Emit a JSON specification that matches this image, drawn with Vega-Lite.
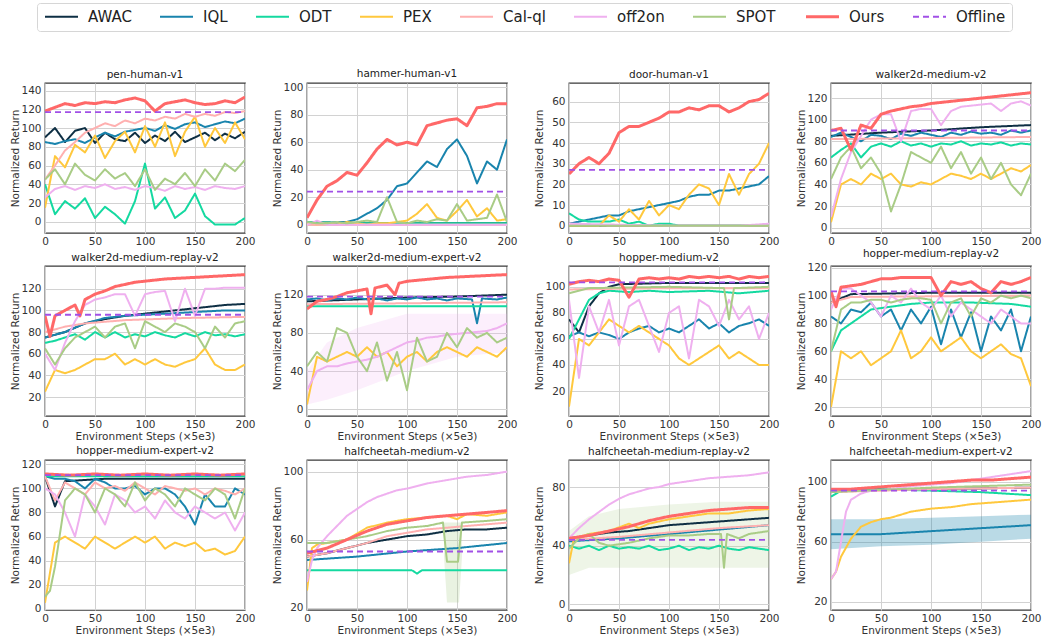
{
"$schema":"https://vega.github.io/schema/vega-lite/v6.json",
"padding":{"left":9,"top":2,"right":0,"bottom":0},
"background":"white",
"config":{
"font":"DejaVu Sans",
"view":{"stroke":"#3a3a3a","strokeWidth":1.3},
"title":{"font":"DejaVu Sans","fontSize":10.5,"fontWeight":"normal","color":"#222","offset":3},
"axis":{"labelFont":"DejaVu Sans","labelFontSize":10.5,"labelColor":"#333","titleFont":"DejaVu Sans","titleFontSize":10.5,"titleFontWeight":"normal","titleColor":"#333","ticks":false,"domain":false,"gridColor":"#d2d2d2","gridWidth":1,"labelPadding":4},
"axisY":{"titlePadding":4,"minExtent":21,"maxExtent":21},
"axisX":{"titlePadding":2,"labelPadding":3,"labelFlush":false},
"legend":{"symbolType":"M-1,0H5","symbolSize":121,"labelFont":"DejaVu Sans","labelFontSize":15,"labelColor":"#222","labelOffset":30,"columnPadding":24,"padding":6,"strokeColor":"#d6d6d6","fillColor":"white","cornerRadius":3}
},
"datasets":{
"p1":[
{"m":"AWAC","x":0,"y":90},{"m":"AWAC","x":10,"y":100},{"m":"AWAC","x":20,"y":85},{"m":"AWAC","x":30,"y":97},{"m":"AWAC","x":40,"y":100},{"m":"AWAC","x":50,"y":84},{"m":"AWAC","x":60,"y":95},{"m":"AWAC","x":70,"y":88},{"m":"AWAC","x":80,"y":86},{"m":"AWAC","x":90,"y":95},{"m":"AWAC","x":100,"y":84},{"m":"AWAC","x":110,"y":92},{"m":"AWAC","x":120,"y":86},{"m":"AWAC","x":130,"y":96},{"m":"AWAC","x":140,"y":85},{"m":"AWAC","x":150,"y":90},{"m":"AWAC","x":160,"y":95},{"m":"AWAC","x":170,"y":87},{"m":"AWAC","x":180,"y":94},{"m":"AWAC","x":190,"y":89},{"m":"AWAC","x":200,"y":96},
{"m":"IQL","x":0,"y":85},{"m":"IQL","x":10,"y":83},{"m":"IQL","x":20,"y":86},{"m":"IQL","x":30,"y":88},{"m":"IQL","x":40,"y":84},{"m":"IQL","x":50,"y":90},{"m":"IQL","x":60,"y":95},{"m":"IQL","x":70,"y":91},{"m":"IQL","x":80,"y":96},{"m":"IQL","x":90,"y":98},{"m":"IQL","x":100,"y":100},{"m":"IQL","x":110,"y":97},{"m":"IQL","x":120,"y":103},{"m":"IQL","x":130,"y":99},{"m":"IQL","x":140,"y":104},{"m":"IQL","x":150,"y":106},{"m":"IQL","x":160,"y":101},{"m":"IQL","x":170,"y":104},{"m":"IQL","x":180,"y":107},{"m":"IQL","x":190,"y":105},{"m":"IQL","x":200,"y":110},
{"m":"ODT","x":0,"y":40},{"m":"ODT","x":10,"y":8},{"m":"ODT","x":20,"y":22},{"m":"ODT","x":30,"y":14},{"m":"ODT","x":40,"y":25},{"m":"ODT","x":50,"y":4},{"m":"ODT","x":60,"y":16},{"m":"ODT","x":70,"y":8},{"m":"ODT","x":80,"y":-2},{"m":"ODT","x":90,"y":22},{"m":"ODT","x":100,"y":62},{"m":"ODT","x":110,"y":14},{"m":"ODT","x":120,"y":26},{"m":"ODT","x":130,"y":4},{"m":"ODT","x":140,"y":12},{"m":"ODT","x":150,"y":30},{"m":"ODT","x":160,"y":6},{"m":"ODT","x":170,"y":-3},{"m":"ODT","x":180,"y":-3},{"m":"ODT","x":190,"y":-3},{"m":"ODT","x":200,"y":4},
{"m":"PEX","x":0,"y":15},{"m":"PEX","x":10,"y":70},{"m":"PEX","x":20,"y":58},{"m":"PEX","x":30,"y":82},{"m":"PEX","x":40,"y":74},{"m":"PEX","x":50,"y":92},{"m":"PEX","x":60,"y":68},{"m":"PEX","x":70,"y":86},{"m":"PEX","x":80,"y":96},{"m":"PEX","x":90,"y":74},{"m":"PEX","x":100,"y":102},{"m":"PEX","x":110,"y":80},{"m":"PEX","x":120,"y":106},{"m":"PEX","x":130,"y":70},{"m":"PEX","x":140,"y":96},{"m":"PEX","x":150,"y":112},{"m":"PEX","x":160,"y":80},{"m":"PEX","x":170,"y":100},{"m":"PEX","x":180,"y":84},{"m":"PEX","x":190,"y":106},{"m":"PEX","x":200,"y":88},
{"m":"Cal-ql","x":0,"y":45},{"m":"Cal-ql","x":10,"y":60},{"m":"Cal-ql","x":20,"y":76},{"m":"Cal-ql","x":30,"y":85},{"m":"Cal-ql","x":40,"y":95},{"m":"Cal-ql","x":50,"y":100},{"m":"Cal-ql","x":60,"y":105},{"m":"Cal-ql","x":70,"y":102},{"m":"Cal-ql","x":80,"y":108},{"m":"Cal-ql","x":90,"y":105},{"m":"Cal-ql","x":100,"y":110},{"m":"Cal-ql","x":110,"y":108},{"m":"Cal-ql","x":120,"y":112},{"m":"Cal-ql","x":130,"y":110},{"m":"Cal-ql","x":140,"y":115},{"m":"Cal-ql","x":150,"y":112},{"m":"Cal-ql","x":160,"y":115},{"m":"Cal-ql","x":170,"y":113},{"m":"Cal-ql","x":180,"y":117},{"m":"Cal-ql","x":190,"y":116},{"m":"Cal-ql","x":200,"y":118},
{"m":"off2on","x":0,"y":26},{"m":"off2on","x":10,"y":35},{"m":"off2on","x":20,"y":38},{"m":"off2on","x":30,"y":34},{"m":"off2on","x":40,"y":38},{"m":"off2on","x":50,"y":36},{"m":"off2on","x":60,"y":40},{"m":"off2on","x":70,"y":35},{"m":"off2on","x":80,"y":37},{"m":"off2on","x":90,"y":34},{"m":"off2on","x":100,"y":38},{"m":"off2on","x":110,"y":36},{"m":"off2on","x":120,"y":33},{"m":"off2on","x":130,"y":38},{"m":"off2on","x":140,"y":35},{"m":"off2on","x":150,"y":37},{"m":"off2on","x":160,"y":34},{"m":"off2on","x":170,"y":38},{"m":"off2on","x":180,"y":36},{"m":"off2on","x":190,"y":35},{"m":"off2on","x":200,"y":38},
{"m":"SPOT","x":0,"y":45},{"m":"SPOT","x":10,"y":56},{"m":"SPOT","x":20,"y":40},{"m":"SPOT","x":30,"y":62},{"m":"SPOT","x":40,"y":50},{"m":"SPOT","x":50,"y":44},{"m":"SPOT","x":60,"y":56},{"m":"SPOT","x":70,"y":46},{"m":"SPOT","x":80,"y":52},{"m":"SPOT","x":90,"y":38},{"m":"SPOT","x":100,"y":56},{"m":"SPOT","x":110,"y":34},{"m":"SPOT","x":120,"y":46},{"m":"SPOT","x":130,"y":40},{"m":"SPOT","x":140,"y":52},{"m":"SPOT","x":150,"y":38},{"m":"SPOT","x":160,"y":56},{"m":"SPOT","x":170,"y":44},{"m":"SPOT","x":180,"y":62},{"m":"SPOT","x":190,"y":54},{"m":"SPOT","x":200,"y":66},
{"m":"Ours","x":0,"y":118},{"m":"Ours","x":10,"y":122},{"m":"Ours","x":20,"y":126},{"m":"Ours","x":30,"y":124},{"m":"Ours","x":40,"y":127},{"m":"Ours","x":50,"y":126},{"m":"Ours","x":60,"y":128},{"m":"Ours","x":70,"y":127},{"m":"Ours","x":80,"y":130},{"m":"Ours","x":90,"y":132},{"m":"Ours","x":100,"y":129},{"m":"Ours","x":110,"y":118},{"m":"Ours","x":120,"y":126},{"m":"Ours","x":130,"y":128},{"m":"Ours","x":140,"y":130},{"m":"Ours","x":150,"y":127},{"m":"Ours","x":160,"y":125},{"m":"Ours","x":170,"y":126},{"m":"Ours","x":180,"y":129},{"m":"Ours","x":190,"y":127},{"m":"Ours","x":200,"y":133},
{"m":"Offline","x":0,"y":117},{"m":"Offline","x":200,"y":117}
],
"p2":[
{"m":"AWAC","x":0,"y":2},{"m":"AWAC","x":50,"y":1},{"m":"AWAC","x":100,"y":1},{"m":"AWAC","x":150,"y":1},{"m":"AWAC","x":200,"y":1},
{"m":"IQL","x":0,"y":2},{"m":"IQL","x":10,"y":2},{"m":"IQL","x":20,"y":1},{"m":"IQL","x":30,"y":2},{"m":"IQL","x":40,"y":2},{"m":"IQL","x":50,"y":4},{"m":"IQL","x":60,"y":8},{"m":"IQL","x":70,"y":12},{"m":"IQL","x":80,"y":18},{"m":"IQL","x":90,"y":28},{"m":"IQL","x":100,"y":30},{"m":"IQL","x":110,"y":38},{"m":"IQL","x":120,"y":46},{"m":"IQL","x":130,"y":42},{"m":"IQL","x":140,"y":55},{"m":"IQL","x":150,"y":62},{"m":"IQL","x":160,"y":50},{"m":"IQL","x":170,"y":30},{"m":"IQL","x":180,"y":46},{"m":"IQL","x":190,"y":40},{"m":"IQL","x":200,"y":62},
{"m":"ODT","x":0,"y":2},{"m":"ODT","x":50,"y":1},{"m":"ODT","x":100,"y":1},{"m":"ODT","x":150,"y":1},{"m":"ODT","x":200,"y":1},
{"m":"PEX","x":0,"y":1},{"m":"PEX","x":10,"y":0},{"m":"PEX","x":20,"y":1},{"m":"PEX","x":30,"y":0},{"m":"PEX","x":40,"y":2},{"m":"PEX","x":50,"y":1},{"m":"PEX","x":60,"y":0},{"m":"PEX","x":70,"y":1},{"m":"PEX","x":80,"y":1},{"m":"PEX","x":90,"y":2},{"m":"PEX","x":100,"y":3},{"m":"PEX","x":110,"y":8},{"m":"PEX","x":120,"y":15},{"m":"PEX","x":130,"y":5},{"m":"PEX","x":140,"y":3},{"m":"PEX","x":150,"y":10},{"m":"PEX","x":160,"y":18},{"m":"PEX","x":170,"y":6},{"m":"PEX","x":180,"y":12},{"m":"PEX","x":190,"y":3},{"m":"PEX","x":200,"y":4},
{"m":"Cal-ql","x":0,"y":0},{"m":"Cal-ql","x":100,"y":0},{"m":"Cal-ql","x":200,"y":0},
{"m":"off2on","x":0,"y":0},{"m":"off2on","x":10,"y":3},{"m":"off2on","x":20,"y":0},{"m":"off2on","x":100,"y":0},{"m":"off2on","x":200,"y":0},
{"m":"SPOT","x":0,"y":2},{"m":"SPOT","x":10,"y":1},{"m":"SPOT","x":20,"y":1},{"m":"SPOT","x":30,"y":2},{"m":"SPOT","x":40,"y":1},{"m":"SPOT","x":50,"y":2},{"m":"SPOT","x":60,"y":3},{"m":"SPOT","x":70,"y":2},{"m":"SPOT","x":80,"y":20},{"m":"SPOT","x":90,"y":2},{"m":"SPOT","x":100,"y":1},{"m":"SPOT","x":110,"y":3},{"m":"SPOT","x":120,"y":2},{"m":"SPOT","x":130,"y":4},{"m":"SPOT","x":140,"y":3},{"m":"SPOT","x":150,"y":15},{"m":"SPOT","x":160,"y":3},{"m":"SPOT","x":170,"y":4},{"m":"SPOT","x":180,"y":5},{"m":"SPOT","x":190,"y":22},{"m":"SPOT","x":200,"y":2},
{"m":"Ours","x":0,"y":5},{"m":"Ours","x":10,"y":18},{"m":"Ours","x":20,"y":28},{"m":"Ours","x":30,"y":32},{"m":"Ours","x":40,"y":38},{"m":"Ours","x":50,"y":36},{"m":"Ours","x":60,"y":45},{"m":"Ours","x":70,"y":55},{"m":"Ours","x":80,"y":62},{"m":"Ours","x":90,"y":58},{"m":"Ours","x":100,"y":60},{"m":"Ours","x":110,"y":58},{"m":"Ours","x":120,"y":72},{"m":"Ours","x":130,"y":74},{"m":"Ours","x":140,"y":76},{"m":"Ours","x":150,"y":77},{"m":"Ours","x":160,"y":72},{"m":"Ours","x":170,"y":85},{"m":"Ours","x":180,"y":86},{"m":"Ours","x":190,"y":88},{"m":"Ours","x":200,"y":88},
{"m":"Offline","x":0,"y":24},{"m":"Offline","x":200,"y":24}
],
"p3":[
{"m":"AWAC","x":0,"y":0},{"m":"AWAC","x":200,"y":0},
{"m":"IQL","x":0,"y":1},{"m":"IQL","x":10,"y":2},{"m":"IQL","x":20,"y":3},{"m":"IQL","x":30,"y":4},{"m":"IQL","x":40,"y":5},{"m":"IQL","x":50,"y":5},{"m":"IQL","x":60,"y":7},{"m":"IQL","x":70,"y":8},{"m":"IQL","x":80,"y":9},{"m":"IQL","x":90,"y":10},{"m":"IQL","x":100,"y":11},{"m":"IQL","x":110,"y":12},{"m":"IQL","x":120,"y":14},{"m":"IQL","x":130,"y":15},{"m":"IQL","x":140,"y":15},{"m":"IQL","x":150,"y":17},{"m":"IQL","x":160,"y":17},{"m":"IQL","x":170,"y":18},{"m":"IQL","x":180,"y":19},{"m":"IQL","x":190,"y":20},{"m":"IQL","x":200,"y":24},
{"m":"ODT","x":0,"y":6},{"m":"ODT","x":10,"y":3},{"m":"ODT","x":20,"y":2},{"m":"ODT","x":30,"y":2},{"m":"ODT","x":40,"y":2},{"m":"ODT","x":50,"y":3},{"m":"ODT","x":60,"y":1},{"m":"ODT","x":70,"y":2},{"m":"ODT","x":80,"y":0},{"m":"ODT","x":90,"y":1},{"m":"ODT","x":100,"y":1},{"m":"ODT","x":110,"y":0},{"m":"ODT","x":200,"y":0},
{"m":"PEX","x":0,"y":0},{"m":"PEX","x":10,"y":0},{"m":"PEX","x":20,"y":0},{"m":"PEX","x":30,"y":0},{"m":"PEX","x":40,"y":5},{"m":"PEX","x":50,"y":2},{"m":"PEX","x":60,"y":8},{"m":"PEX","x":70,"y":3},{"m":"PEX","x":80,"y":12},{"m":"PEX","x":90,"y":5},{"m":"PEX","x":100,"y":10},{"m":"PEX","x":110,"y":8},{"m":"PEX","x":120,"y":15},{"m":"PEX","x":130,"y":20},{"m":"PEX","x":140,"y":18},{"m":"PEX","x":150,"y":10},{"m":"PEX","x":160,"y":25},{"m":"PEX","x":170,"y":15},{"m":"PEX","x":180,"y":25},{"m":"PEX","x":190,"y":30},{"m":"PEX","x":200,"y":40},
{"m":"Cal-ql","x":0,"y":1},{"m":"Cal-ql","x":40,"y":0},{"m":"Cal-ql","x":200,"y":0},
{"m":"off2on","x":0,"y":1},{"m":"off2on","x":100,"y":0},{"m":"off2on","x":170,"y":0},{"m":"off2on","x":200,"y":1},
{"m":"SPOT","x":0,"y":0},{"m":"SPOT","x":200,"y":0},
{"m":"Ours","x":0,"y":25},{"m":"Ours","x":10,"y":30},{"m":"Ours","x":20,"y":33},{"m":"Ours","x":30,"y":30},{"m":"Ours","x":40,"y":35},{"m":"Ours","x":50,"y":45},{"m":"Ours","x":60,"y":48},{"m":"Ours","x":70,"y":48},{"m":"Ours","x":80,"y":50},{"m":"Ours","x":90,"y":52},{"m":"Ours","x":100,"y":55},{"m":"Ours","x":110,"y":55},{"m":"Ours","x":120,"y":57},{"m":"Ours","x":130,"y":56},{"m":"Ours","x":140,"y":58},{"m":"Ours","x":150,"y":58},{"m":"Ours","x":160,"y":55},{"m":"Ours","x":170,"y":57},{"m":"Ours","x":180,"y":60},{"m":"Ours","x":190,"y":61},{"m":"Ours","x":200,"y":64},
{"m":"Offline","x":0,"y":27},{"m":"Offline","x":200,"y":27}
],
"p4":[
{"m":"AWAC","x":0,"y":85},{"m":"AWAC","x":50,"y":88},{"m":"AWAC","x":100,"y":90},{"m":"AWAC","x":150,"y":93},{"m":"AWAC","x":200,"y":95},
{"m":"IQL","x":0,"y":84},{"m":"IQL","x":10,"y":88},{"m":"IQL","x":20,"y":84},{"m":"IQL","x":30,"y":80},{"m":"IQL","x":40,"y":86},{"m":"IQL","x":50,"y":85},{"m":"IQL","x":60,"y":82},{"m":"IQL","x":70,"y":87},{"m":"IQL","x":80,"y":85},{"m":"IQL","x":90,"y":88},{"m":"IQL","x":100,"y":86},{"m":"IQL","x":110,"y":84},{"m":"IQL","x":120,"y":88},{"m":"IQL","x":130,"y":86},{"m":"IQL","x":140,"y":89},{"m":"IQL","x":150,"y":87},{"m":"IQL","x":160,"y":88},{"m":"IQL","x":170,"y":86},{"m":"IQL","x":180,"y":90},{"m":"IQL","x":190,"y":88},{"m":"IQL","x":200,"y":90},
{"m":"ODT","x":0,"y":65},{"m":"ODT","x":10,"y":72},{"m":"ODT","x":20,"y":78},{"m":"ODT","x":30,"y":65},{"m":"ODT","x":40,"y":75},{"m":"ODT","x":50,"y":78},{"m":"ODT","x":60,"y":75},{"m":"ODT","x":70,"y":80},{"m":"ODT","x":80,"y":76},{"m":"ODT","x":90,"y":78},{"m":"ODT","x":100,"y":75},{"m":"ODT","x":110,"y":78},{"m":"ODT","x":120,"y":77},{"m":"ODT","x":130,"y":80},{"m":"ODT","x":140,"y":76},{"m":"ODT","x":150,"y":78},{"m":"ODT","x":160,"y":77},{"m":"ODT","x":170,"y":79},{"m":"ODT","x":180,"y":76},{"m":"ODT","x":190,"y":78},{"m":"ODT","x":200,"y":77},
{"m":"PEX","x":0,"y":5},{"m":"PEX","x":10,"y":40},{"m":"PEX","x":20,"y":45},{"m":"PEX","x":30,"y":40},{"m":"PEX","x":40,"y":50},{"m":"PEX","x":50,"y":45},{"m":"PEX","x":60,"y":50},{"m":"PEX","x":70,"y":40},{"m":"PEX","x":80,"y":38},{"m":"PEX","x":90,"y":42},{"m":"PEX","x":100,"y":40},{"m":"PEX","x":110,"y":45},{"m":"PEX","x":120,"y":50},{"m":"PEX","x":130,"y":48},{"m":"PEX","x":140,"y":45},{"m":"PEX","x":150,"y":50},{"m":"PEX","x":160,"y":45},{"m":"PEX","x":170,"y":50},{"m":"PEX","x":180,"y":55},{"m":"PEX","x":190,"y":52},{"m":"PEX","x":200,"y":58},
{"m":"Cal-ql","x":0,"y":82},{"m":"Cal-ql","x":100,"y":83},{"m":"Cal-ql","x":200,"y":84},
{"m":"off2on","x":0,"y":10},{"m":"off2on","x":10,"y":45},{"m":"off2on","x":20,"y":70},{"m":"off2on","x":30,"y":85},{"m":"off2on","x":40,"y":100},{"m":"off2on","x":50,"y":105},{"m":"off2on","x":60,"y":105},{"m":"off2on","x":70,"y":80},{"m":"off2on","x":80,"y":108},{"m":"off2on","x":90,"y":110},{"m":"off2on","x":100,"y":110},{"m":"off2on","x":110,"y":95},{"m":"off2on","x":120,"y":108},{"m":"off2on","x":130,"y":112},{"m":"off2on","x":140,"y":113},{"m":"off2on","x":150,"y":114},{"m":"off2on","x":160,"y":115},{"m":"off2on","x":170,"y":108},{"m":"off2on","x":180,"y":115},{"m":"off2on","x":190,"y":117},{"m":"off2on","x":200,"y":113},
{"m":"SPOT","x":0,"y":45},{"m":"SPOT","x":10,"y":65},{"m":"SPOT","x":20,"y":75},{"m":"SPOT","x":30,"y":55},{"m":"SPOT","x":40,"y":65},{"m":"SPOT","x":50,"y":50},{"m":"SPOT","x":60,"y":15},{"m":"SPOT","x":70,"y":40},{"m":"SPOT","x":80,"y":70},{"m":"SPOT","x":90,"y":65},{"m":"SPOT","x":100,"y":60},{"m":"SPOT","x":110,"y":75},{"m":"SPOT","x":120,"y":55},{"m":"SPOT","x":130,"y":70},{"m":"SPOT","x":140,"y":50},{"m":"SPOT","x":150,"y":65},{"m":"SPOT","x":160,"y":45},{"m":"SPOT","x":170,"y":60},{"m":"SPOT","x":180,"y":40},{"m":"SPOT","x":190,"y":30},{"m":"SPOT","x":200,"y":50},
{"m":"Ours","x":0,"y":90},{"m":"Ours","x":10,"y":92},{"m":"Ours","x":20,"y":72},{"m":"Ours","x":30,"y":95},{"m":"Ours","x":40,"y":92},{"m":"Ours","x":50,"y":105},{"m":"Ours","x":60,"y":108},{"m":"Ours","x":70,"y":110},{"m":"Ours","x":80,"y":112},{"m":"Ours","x":90,"y":113},{"m":"Ours","x":100,"y":115},{"m":"Ours","x":120,"y":117},{"m":"Ours","x":140,"y":119},{"m":"Ours","x":160,"y":121},{"m":"Ours","x":180,"y":123},{"m":"Ours","x":200,"y":125},
{"m":"Offline","x":0,"y":90},{"m":"Offline","x":200,"y":90}
],
"p5":[
{"m":"AWAC","x":0,"y":75},{"m":"AWAC","x":20,"y":80},{"m":"AWAC","x":40,"y":88},{"m":"AWAC","x":60,"y":92},{"m":"AWAC","x":80,"y":95},{"m":"AWAC","x":100,"y":97},{"m":"AWAC","x":120,"y":99},{"m":"AWAC","x":140,"y":101},{"m":"AWAC","x":160,"y":103},{"m":"AWAC","x":180,"y":105},{"m":"AWAC","x":200,"y":106},
{"m":"IQL","x":0,"y":75},{"m":"IQL","x":20,"y":80},{"m":"IQL","x":40,"y":88},{"m":"IQL","x":60,"y":93},{"m":"IQL","x":80,"y":95},{"m":"IQL","x":100,"y":96},{"m":"IQL","x":120,"y":97},{"m":"IQL","x":140,"y":98},{"m":"IQL","x":160,"y":99},{"m":"IQL","x":180,"y":100},{"m":"IQL","x":200,"y":100},
{"m":"ODT","x":0,"y":70},{"m":"ODT","x":10,"y":72},{"m":"ODT","x":20,"y":75},{"m":"ODT","x":30,"y":78},{"m":"ODT","x":40,"y":73},{"m":"ODT","x":50,"y":80},{"m":"ODT","x":60,"y":75},{"m":"ODT","x":70,"y":80},{"m":"ODT","x":80,"y":75},{"m":"ODT","x":90,"y":78},{"m":"ODT","x":100,"y":76},{"m":"ODT","x":110,"y":80},{"m":"ODT","x":120,"y":77},{"m":"ODT","x":130,"y":75},{"m":"ODT","x":140,"y":79},{"m":"ODT","x":150,"y":76},{"m":"ODT","x":160,"y":80},{"m":"ODT","x":170,"y":77},{"m":"ODT","x":180,"y":78},{"m":"ODT","x":190,"y":76},{"m":"ODT","x":200,"y":78},
{"m":"PEX","x":0,"y":25},{"m":"PEX","x":10,"y":45},{"m":"PEX","x":20,"y":42},{"m":"PEX","x":30,"y":45},{"m":"PEX","x":40,"y":50},{"m":"PEX","x":50,"y":55},{"m":"PEX","x":60,"y":55},{"m":"PEX","x":70,"y":60},{"m":"PEX","x":80,"y":50},{"m":"PEX","x":90,"y":55},{"m":"PEX","x":100,"y":50},{"m":"PEX","x":110,"y":55},{"m":"PEX","x":120,"y":50},{"m":"PEX","x":130,"y":48},{"m":"PEX","x":140,"y":52},{"m":"PEX","x":150,"y":55},{"m":"PEX","x":160,"y":65},{"m":"PEX","x":170,"y":50},{"m":"PEX","x":180,"y":45},{"m":"PEX","x":190,"y":45},{"m":"PEX","x":200,"y":50},
{"m":"Cal-ql","x":0,"y":80},{"m":"Cal-ql","x":20,"y":85},{"m":"Cal-ql","x":40,"y":88},{"m":"Cal-ql","x":80,"y":91},{"m":"Cal-ql","x":140,"y":93},{"m":"Cal-ql","x":200,"y":94},
{"m":"off2on","x":0,"y":60},{"m":"off2on","x":10,"y":45},{"m":"off2on","x":20,"y":70},{"m":"off2on","x":30,"y":90},{"m":"off2on","x":40,"y":105},{"m":"off2on","x":50,"y":110},{"m":"off2on","x":60,"y":112},{"m":"off2on","x":70,"y":115},{"m":"off2on","x":80,"y":115},{"m":"off2on","x":90,"y":95},{"m":"off2on","x":100,"y":115},{"m":"off2on","x":110,"y":117},{"m":"off2on","x":120,"y":118},{"m":"off2on","x":130,"y":90},{"m":"off2on","x":140,"y":120},{"m":"off2on","x":150,"y":95},{"m":"off2on","x":160,"y":120},{"m":"off2on","x":170,"y":120},{"m":"off2on","x":180,"y":121},{"m":"off2on","x":190,"y":121},{"m":"off2on","x":200,"y":121},
{"m":"SPOT","x":0,"y":65},{"m":"SPOT","x":10,"y":50},{"m":"SPOT","x":20,"y":65},{"m":"SPOT","x":30,"y":75},{"m":"SPOT","x":40,"y":80},{"m":"SPOT","x":50,"y":85},{"m":"SPOT","x":60,"y":75},{"m":"SPOT","x":70,"y":85},{"m":"SPOT","x":80,"y":88},{"m":"SPOT","x":90,"y":65},{"m":"SPOT","x":100,"y":90},{"m":"SPOT","x":110,"y":85},{"m":"SPOT","x":120,"y":80},{"m":"SPOT","x":130,"y":88},{"m":"SPOT","x":140,"y":85},{"m":"SPOT","x":150,"y":80},{"m":"SPOT","x":160,"y":65},{"m":"SPOT","x":170,"y":85},{"m":"SPOT","x":180,"y":75},{"m":"SPOT","x":190,"y":88},{"m":"SPOT","x":200,"y":90},
{"m":"Ours","x":0,"y":95},{"m":"Ours","x":5,"y":76},{"m":"Ours","x":10,"y":95},{"m":"Ours","x":20,"y":100},{"m":"Ours","x":30,"y":105},{"m":"Ours","x":35,"y":95},{"m":"Ours","x":40,"y":110},{"m":"Ours","x":50,"y":115},{"m":"Ours","x":60,"y":118},{"m":"Ours","x":70,"y":122},{"m":"Ours","x":80,"y":124},{"m":"Ours","x":90,"y":126},{"m":"Ours","x":100,"y":127},{"m":"Ours","x":120,"y":129},{"m":"Ours","x":140,"y":130},{"m":"Ours","x":160,"y":131},{"m":"Ours","x":180,"y":132},{"m":"Ours","x":200,"y":133},
{"m":"Offline","x":0,"y":96},{"m":"Offline","x":200,"y":96}
],
"p6":[
{"m":"AWAC","x":0,"y":113},{"m":"AWAC","x":50,"y":115},{"m":"AWAC","x":100,"y":117},{"m":"AWAC","x":150,"y":118},{"m":"AWAC","x":200,"y":120},
{"m":"IQL","x":0,"y":115},{"m":"IQL","x":10,"y":116},{"m":"IQL","x":20,"y":114},{"m":"IQL","x":30,"y":116},{"m":"IQL","x":40,"y":115},{"m":"IQL","x":50,"y":117},{"m":"IQL","x":60,"y":115},{"m":"IQL","x":70,"y":116},{"m":"IQL","x":80,"y":114},{"m":"IQL","x":90,"y":116},{"m":"IQL","x":100,"y":115},{"m":"IQL","x":110,"y":117},{"m":"IQL","x":120,"y":115},{"m":"IQL","x":130,"y":116},{"m":"IQL","x":140,"y":114},{"m":"IQL","x":150,"y":116},{"m":"IQL","x":165,"y":115},{"m":"IQL","x":170,"y":90},{"m":"IQL","x":175,"y":116},{"m":"IQL","x":190,"y":115},{"m":"IQL","x":200,"y":117},
{"m":"ODT","x":0,"y":108},{"m":"ODT","x":100,"y":108},{"m":"ODT","x":200,"y":108},
{"m":"PEX","x":0,"y":5},{"m":"PEX","x":10,"y":55},{"m":"PEX","x":20,"y":50},{"m":"PEX","x":30,"y":55},{"m":"PEX","x":40,"y":60},{"m":"PEX","x":50,"y":55},{"m":"PEX","x":60,"y":65},{"m":"PEX","x":70,"y":55},{"m":"PEX","x":80,"y":60},{"m":"PEX","x":90,"y":45},{"m":"PEX","x":100,"y":55},{"m":"PEX","x":110,"y":60},{"m":"PEX","x":120,"y":50},{"m":"PEX","x":130,"y":60},{"m":"PEX","x":140,"y":65},{"m":"PEX","x":150,"y":60},{"m":"PEX","x":160,"y":55},{"m":"PEX","x":170,"y":65},{"m":"PEX","x":180,"y":60},{"m":"PEX","x":190,"y":55},{"m":"PEX","x":200,"y":65},
{"m":"Cal-ql","x":0,"y":110},{"m":"Cal-ql","x":100,"y":111},{"m":"Cal-ql","x":200,"y":112},
{"m":"off2on","x":0,"y":20},{"m":"off2on","x":10,"y":40},{"m":"off2on","x":20,"y":45},{"m":"off2on","x":30,"y":45},{"m":"off2on","x":40,"y":48},{"m":"off2on","x":50,"y":50},{"m":"off2on","x":60,"y":52},{"m":"off2on","x":70,"y":55},{"m":"off2on","x":80,"y":60},{"m":"off2on","x":90,"y":65},{"m":"off2on","x":100,"y":70},{"m":"off2on","x":110,"y":72},{"m":"off2on","x":120,"y":75},{"m":"off2on","x":130,"y":76},{"m":"off2on","x":140,"y":78},{"m":"off2on","x":150,"y":79},{"m":"off2on","x":160,"y":80},{"m":"off2on","x":170,"y":81},{"m":"off2on","x":180,"y":82},{"m":"off2on","x":190,"y":85},{"m":"off2on","x":200,"y":90},
{"m":"SPOT","x":0,"y":45},{"m":"SPOT","x":10,"y":60},{"m":"SPOT","x":20,"y":50},{"m":"SPOT","x":30,"y":85},{"m":"SPOT","x":40,"y":80},{"m":"SPOT","x":50,"y":55},{"m":"SPOT","x":60,"y":40},{"m":"SPOT","x":70,"y":70},{"m":"SPOT","x":80,"y":30},{"m":"SPOT","x":90,"y":60},{"m":"SPOT","x":100,"y":20},{"m":"SPOT","x":110,"y":75},{"m":"SPOT","x":120,"y":50},{"m":"SPOT","x":130,"y":55},{"m":"SPOT","x":140,"y":80},{"m":"SPOT","x":150,"y":65},{"m":"SPOT","x":160,"y":85},{"m":"SPOT","x":170,"y":75},{"m":"SPOT","x":180,"y":80},{"m":"SPOT","x":190,"y":70},{"m":"SPOT","x":200,"y":75},
{"m":"Ours","x":0,"y":105},{"m":"Ours","x":10,"y":113},{"m":"Ours","x":20,"y":115},{"m":"Ours","x":30,"y":118},{"m":"Ours","x":40,"y":122},{"m":"Ours","x":50,"y":124},{"m":"Ours","x":60,"y":126},{"m":"Ours","x":64,"y":100},{"m":"Ours","x":68,"y":127},{"m":"Ours","x":80,"y":130},{"m":"Ours","x":88,"y":120},{"m":"Ours","x":92,"y":132},{"m":"Ours","x":100,"y":134},{"m":"Ours","x":110,"y":135},{"m":"Ours","x":120,"y":136},{"m":"Ours","x":140,"y":138},{"m":"Ours","x":160,"y":139},{"m":"Ours","x":180,"y":140},{"m":"Ours","x":200,"y":141},
{"m":"Offline","x":0,"y":118},{"m":"Offline","x":200,"y":118}
],
"b6":[
{"m":"off2on","x":0,"lo":5,"hi":40},{"m":"off2on","x":20,"lo":10,"hi":70},{"m":"off2on","x":50,"lo":20,"hi":85},{"m":"off2on","x":100,"lo":40,"hi":100},{"m":"off2on","x":150,"lo":55,"hi":100},{"m":"off2on","x":200,"lo":60,"hi":100}
],
"p7":[
{"m":"AWAC","x":0,"y":75},{"m":"AWAC","x":10,"y":65},{"m":"AWAC","x":20,"y":85},{"m":"AWAC","x":30,"y":95},{"m":"AWAC","x":40,"y":100},{"m":"AWAC","x":50,"y":102},{"m":"AWAC","x":100,"y":103},{"m":"AWAC","x":150,"y":103},{"m":"AWAC","x":200,"y":103},
{"m":"IQL","x":0,"y":62},{"m":"IQL","x":10,"y":65},{"m":"IQL","x":20,"y":62},{"m":"IQL","x":30,"y":65},{"m":"IQL","x":40,"y":63},{"m":"IQL","x":50,"y":60},{"m":"IQL","x":60,"y":65},{"m":"IQL","x":70,"y":68},{"m":"IQL","x":80,"y":70},{"m":"IQL","x":90,"y":65},{"m":"IQL","x":100,"y":68},{"m":"IQL","x":110,"y":65},{"m":"IQL","x":120,"y":70},{"m":"IQL","x":130,"y":75},{"m":"IQL","x":140,"y":68},{"m":"IQL","x":150,"y":72},{"m":"IQL","x":160,"y":65},{"m":"IQL","x":170,"y":70},{"m":"IQL","x":180,"y":72},{"m":"IQL","x":190,"y":75},{"m":"IQL","x":200,"y":70},
{"m":"ODT","x":0,"y":60},{"m":"ODT","x":10,"y":75},{"m":"ODT","x":20,"y":90},{"m":"ODT","x":30,"y":95},{"m":"ODT","x":40,"y":97},{"m":"ODT","x":60,"y":96},{"m":"ODT","x":80,"y":97},{"m":"ODT","x":100,"y":96},{"m":"ODT","x":140,"y":97},{"m":"ODT","x":170,"y":95},{"m":"ODT","x":200,"y":97},
{"m":"PEX","x":0,"y":8},{"m":"PEX","x":10,"y":60},{"m":"PEX","x":20,"y":55},{"m":"PEX","x":30,"y":65},{"m":"PEX","x":40,"y":75},{"m":"PEX","x":50,"y":70},{"m":"PEX","x":60,"y":65},{"m":"PEX","x":70,"y":70},{"m":"PEX","x":80,"y":65},{"m":"PEX","x":90,"y":60},{"m":"PEX","x":100,"y":55},{"m":"PEX","x":110,"y":45},{"m":"PEX","x":120,"y":40},{"m":"PEX","x":130,"y":45},{"m":"PEX","x":140,"y":50},{"m":"PEX","x":150,"y":55},{"m":"PEX","x":160,"y":45},{"m":"PEX","x":170,"y":50},{"m":"PEX","x":180,"y":45},{"m":"PEX","x":190,"y":40},{"m":"PEX","x":200,"y":40},
{"m":"Cal-ql","x":0,"y":98},{"m":"Cal-ql","x":100,"y":99},{"m":"Cal-ql","x":200,"y":99},
{"m":"off2on","x":0,"y":90},{"m":"off2on","x":10,"y":30},{"m":"off2on","x":20,"y":85},{"m":"off2on","x":30,"y":65},{"m":"off2on","x":40,"y":90},{"m":"off2on","x":50,"y":55},{"m":"off2on","x":60,"y":85},{"m":"off2on","x":70,"y":90},{"m":"off2on","x":80,"y":70},{"m":"off2on","x":90,"y":50},{"m":"off2on","x":100,"y":80},{"m":"off2on","x":110,"y":85},{"m":"off2on","x":120,"y":45},{"m":"off2on","x":130,"y":90},{"m":"off2on","x":140,"y":85},{"m":"off2on","x":150,"y":70},{"m":"off2on","x":160,"y":90},{"m":"off2on","x":170,"y":75},{"m":"off2on","x":180,"y":85},{"m":"off2on","x":190,"y":60},{"m":"off2on","x":200,"y":80},
{"m":"SPOT","x":0,"y":95},{"m":"SPOT","x":20,"y":99},{"m":"SPOT","x":100,"y":100},{"m":"SPOT","x":155,"y":99},{"m":"SPOT","x":160,"y":75},{"m":"SPOT","x":165,"y":99},{"m":"SPOT","x":200,"y":100},
{"m":"Ours","x":0,"y":102},{"m":"Ours","x":10,"y":104},{"m":"Ours","x":20,"y":105},{"m":"Ours","x":30,"y":104},{"m":"Ours","x":40,"y":106},{"m":"Ours","x":50,"y":105},{"m":"Ours","x":60,"y":92},{"m":"Ours","x":70,"y":106},{"m":"Ours","x":80,"y":107},{"m":"Ours","x":90,"y":106},{"m":"Ours","x":100,"y":107},{"m":"Ours","x":110,"y":106},{"m":"Ours","x":120,"y":108},{"m":"Ours","x":130,"y":107},{"m":"Ours","x":140,"y":108},{"m":"Ours","x":150,"y":107},{"m":"Ours","x":160,"y":108},{"m":"Ours","x":170,"y":106},{"m":"Ours","x":180,"y":108},{"m":"Ours","x":190,"y":107},{"m":"Ours","x":200,"y":108},
{"m":"Offline","x":0,"y":103.5},{"m":"Offline","x":200,"y":103.5}
],
"p8":[
{"m":"AWAC","x":0,"y":95},{"m":"AWAC","x":10,"y":98},{"m":"AWAC","x":20,"y":101},{"m":"AWAC","x":100,"y":102},{"m":"AWAC","x":200,"y":102},
{"m":"IQL","x":0,"y":85},{"m":"IQL","x":10,"y":80},{"m":"IQL","x":20,"y":90},{"m":"IQL","x":30,"y":88},{"m":"IQL","x":40,"y":95},{"m":"IQL","x":50,"y":85},{"m":"IQL","x":60,"y":90},{"m":"IQL","x":70,"y":75},{"m":"IQL","x":80,"y":90},{"m":"IQL","x":90,"y":80},{"m":"IQL","x":100,"y":92},{"m":"IQL","x":110,"y":65},{"m":"IQL","x":120,"y":90},{"m":"IQL","x":130,"y":70},{"m":"IQL","x":140,"y":88},{"m":"IQL","x":150,"y":60},{"m":"IQL","x":160,"y":85},{"m":"IQL","x":170,"y":75},{"m":"IQL","x":180,"y":90},{"m":"IQL","x":190,"y":60},{"m":"IQL","x":200,"y":85},
{"m":"ODT","x":0,"y":60},{"m":"ODT","x":10,"y":75},{"m":"ODT","x":20,"y":80},{"m":"ODT","x":30,"y":85},{"m":"ODT","x":40,"y":90},{"m":"ODT","x":60,"y":92},{"m":"ODT","x":80,"y":94},{"m":"ODT","x":100,"y":95},{"m":"ODT","x":140,"y":95},{"m":"ODT","x":180,"y":94},{"m":"ODT","x":200,"y":92},
{"m":"PEX","x":0,"y":20},{"m":"PEX","x":10,"y":60},{"m":"PEX","x":20,"y":55},{"m":"PEX","x":30,"y":60},{"m":"PEX","x":40,"y":50},{"m":"PEX","x":50,"y":55},{"m":"PEX","x":60,"y":60},{"m":"PEX","x":70,"y":75},{"m":"PEX","x":80,"y":55},{"m":"PEX","x":90,"y":60},{"m":"PEX","x":100,"y":70},{"m":"PEX","x":110,"y":60},{"m":"PEX","x":120,"y":65},{"m":"PEX","x":130,"y":70},{"m":"PEX","x":140,"y":60},{"m":"PEX","x":150,"y":55},{"m":"PEX","x":160,"y":60},{"m":"PEX","x":170,"y":65},{"m":"PEX","x":180,"y":58},{"m":"PEX","x":190,"y":55},{"m":"PEX","x":200,"y":35},
{"m":"Cal-ql","x":0,"y":95},{"m":"Cal-ql","x":20,"y":99},{"m":"Cal-ql","x":200,"y":100},
{"m":"off2on","x":0,"y":90},{"m":"off2on","x":10,"y":105},{"m":"off2on","x":20,"y":105},{"m":"off2on","x":30,"y":100},{"m":"off2on","x":40,"y":95},{"m":"off2on","x":50,"y":85},{"m":"off2on","x":60,"y":100},{"m":"off2on","x":70,"y":95},{"m":"off2on","x":80,"y":105},{"m":"off2on","x":90,"y":95},{"m":"off2on","x":100,"y":90},{"m":"off2on","x":110,"y":100},{"m":"off2on","x":120,"y":85},{"m":"off2on","x":130,"y":95},{"m":"off2on","x":140,"y":90},{"m":"off2on","x":150,"y":85},{"m":"off2on","x":160,"y":80},{"m":"off2on","x":170,"y":90},{"m":"off2on","x":180,"y":85},{"m":"off2on","x":190,"y":80},{"m":"off2on","x":200,"y":80},
{"m":"SPOT","x":0,"y":60},{"m":"SPOT","x":10,"y":90},{"m":"SPOT","x":20,"y":95},{"m":"SPOT","x":30,"y":95},{"m":"SPOT","x":40,"y":97},{"m":"SPOT","x":50,"y":97},{"m":"SPOT","x":60,"y":95},{"m":"SPOT","x":70,"y":97},{"m":"SPOT","x":80,"y":98},{"m":"SPOT","x":90,"y":98},{"m":"SPOT","x":100,"y":97},{"m":"SPOT","x":110,"y":80},{"m":"SPOT","x":120,"y":95},{"m":"SPOT","x":130,"y":98},{"m":"SPOT","x":140,"y":85},{"m":"SPOT","x":150,"y":98},{"m":"SPOT","x":160,"y":95},{"m":"SPOT","x":170,"y":100},{"m":"SPOT","x":180,"y":98},{"m":"SPOT","x":190,"y":100},{"m":"SPOT","x":200,"y":98},
{"m":"Ours","x":0,"y":103},{"m":"Ours","x":5,"y":92},{"m":"Ours","x":10,"y":106},{"m":"Ours","x":20,"y":107},{"m":"Ours","x":30,"y":108},{"m":"Ours","x":40,"y":110},{"m":"Ours","x":50,"y":112},{"m":"Ours","x":60,"y":112},{"m":"Ours","x":70,"y":113},{"m":"Ours","x":80,"y":113},{"m":"Ours","x":90,"y":113},{"m":"Ours","x":100,"y":113},{"m":"Ours","x":110,"y":100},{"m":"Ours","x":120,"y":110},{"m":"Ours","x":130,"y":108},{"m":"Ours","x":140,"y":110},{"m":"Ours","x":150,"y":105},{"m":"Ours","x":160,"y":102},{"m":"Ours","x":170,"y":110},{"m":"Ours","x":180,"y":108},{"m":"Ours","x":190,"y":110},{"m":"Ours","x":200,"y":113},
{"m":"Offline","x":0,"y":103},{"m":"Offline","x":200,"y":103}
],
"p9":[
{"m":"AWAC","x":0,"y":110},{"m":"AWAC","x":10,"y":85},{"m":"AWAC","x":20,"y":106},{"m":"AWAC","x":60,"y":108},{"m":"AWAC","x":140,"y":108},{"m":"AWAC","x":200,"y":108},
{"m":"IQL","x":0,"y":110},{"m":"IQL","x":10,"y":108},{"m":"IQL","x":20,"y":108},{"m":"IQL","x":30,"y":106},{"m":"IQL","x":40,"y":100},{"m":"IQL","x":50,"y":108},{"m":"IQL","x":60,"y":105},{"m":"IQL","x":70,"y":100},{"m":"IQL","x":80,"y":100},{"m":"IQL","x":90,"y":102},{"m":"IQL","x":100,"y":95},{"m":"IQL","x":110,"y":100},{"m":"IQL","x":120,"y":100},{"m":"IQL","x":130,"y":95},{"m":"IQL","x":140,"y":85},{"m":"IQL","x":150,"y":70},{"m":"IQL","x":160,"y":95},{"m":"IQL","x":170,"y":85},{"m":"IQL","x":180,"y":85},{"m":"IQL","x":190,"y":100},{"m":"IQL","x":200,"y":95},
{"m":"ODT","x":0,"y":110},{"m":"ODT","x":100,"y":110},{"m":"ODT","x":200,"y":110},
{"m":"PEX","x":0,"y":5},{"m":"PEX","x":10,"y":55},{"m":"PEX","x":20,"y":60},{"m":"PEX","x":30,"y":55},{"m":"PEX","x":40,"y":50},{"m":"PEX","x":50,"y":60},{"m":"PEX","x":60,"y":55},{"m":"PEX","x":70,"y":50},{"m":"PEX","x":80,"y":55},{"m":"PEX","x":90,"y":60},{"m":"PEX","x":100,"y":55},{"m":"PEX","x":110,"y":60},{"m":"PEX","x":120,"y":50},{"m":"PEX","x":130,"y":55},{"m":"PEX","x":140,"y":52},{"m":"PEX","x":150,"y":55},{"m":"PEX","x":160,"y":48},{"m":"PEX","x":170,"y":50},{"m":"PEX","x":180,"y":45},{"m":"PEX","x":190,"y":48},{"m":"PEX","x":200,"y":60},
{"m":"Cal-ql","x":0,"y":110},{"m":"Cal-ql","x":10,"y":90},{"m":"Cal-ql","x":20,"y":105},{"m":"Cal-ql","x":30,"y":100},{"m":"Cal-ql","x":40,"y":95},{"m":"Cal-ql","x":50,"y":105},{"m":"Cal-ql","x":60,"y":100},{"m":"Cal-ql","x":70,"y":102},{"m":"Cal-ql","x":80,"y":98},{"m":"Cal-ql","x":90,"y":105},{"m":"Cal-ql","x":100,"y":100},{"m":"Cal-ql","x":110,"y":95},{"m":"Cal-ql","x":120,"y":102},{"m":"Cal-ql","x":130,"y":100},{"m":"Cal-ql","x":140,"y":98},{"m":"Cal-ql","x":150,"y":100},{"m":"Cal-ql","x":160,"y":95},{"m":"Cal-ql","x":170,"y":100},{"m":"Cal-ql","x":180,"y":98},{"m":"Cal-ql","x":190,"y":95},{"m":"Cal-ql","x":200,"y":100},
{"m":"off2on","x":0,"y":100},{"m":"off2on","x":10,"y":95},{"m":"off2on","x":20,"y":80},{"m":"off2on","x":30,"y":60},{"m":"off2on","x":40,"y":95},{"m":"off2on","x":50,"y":85},{"m":"off2on","x":60,"y":70},{"m":"off2on","x":70,"y":95},{"m":"off2on","x":80,"y":90},{"m":"off2on","x":90,"y":80},{"m":"off2on","x":100,"y":85},{"m":"off2on","x":110,"y":75},{"m":"off2on","x":120,"y":90},{"m":"off2on","x":130,"y":80},{"m":"off2on","x":140,"y":75},{"m":"off2on","x":150,"y":85},{"m":"off2on","x":160,"y":80},{"m":"off2on","x":170,"y":75},{"m":"off2on","x":180,"y":80},{"m":"off2on","x":190,"y":65},{"m":"off2on","x":200,"y":80},
{"m":"SPOT","x":0,"y":10},{"m":"SPOT","x":5,"y":15},{"m":"SPOT","x":10,"y":35},{"m":"SPOT","x":20,"y":90},{"m":"SPOT","x":30,"y":100},{"m":"SPOT","x":40,"y":95},{"m":"SPOT","x":50,"y":80},{"m":"SPOT","x":60,"y":100},{"m":"SPOT","x":70,"y":95},{"m":"SPOT","x":80,"y":85},{"m":"SPOT","x":90,"y":105},{"m":"SPOT","x":100,"y":90},{"m":"SPOT","x":110,"y":100},{"m":"SPOT","x":120,"y":95},{"m":"SPOT","x":130,"y":85},{"m":"SPOT","x":140,"y":100},{"m":"SPOT","x":150,"y":95},{"m":"SPOT","x":160,"y":90},{"m":"SPOT","x":170,"y":100},{"m":"SPOT","x":180,"y":95},{"m":"SPOT","x":190,"y":75},{"m":"SPOT","x":200,"y":100},
{"m":"Ours","x":0,"y":112},{"m":"Ours","x":25,"y":111},{"m":"Ours","x":50,"y":112},{"m":"Ours","x":75,"y":111},{"m":"Ours","x":100,"y":112},{"m":"Ours","x":125,"y":111},{"m":"Ours","x":150,"y":112},{"m":"Ours","x":175,"y":111},{"m":"Ours","x":200,"y":112},
{"m":"Offline","x":0,"y":111},{"m":"Offline","x":200,"y":111}
],
"p10":[
{"m":"AWAC","x":0,"y":50},{"m":"AWAC","x":20,"y":52},{"m":"AWAC","x":40,"y":55},{"m":"AWAC","x":60,"y":58},{"m":"AWAC","x":80,"y":60},{"m":"AWAC","x":100,"y":62},{"m":"AWAC","x":120,"y":63},{"m":"AWAC","x":140,"y":65},{"m":"AWAC","x":160,"y":66},{"m":"AWAC","x":180,"y":66},{"m":"AWAC","x":200,"y":67},
{"m":"IQL","x":0,"y":48},{"m":"IQL","x":50,"y":50},{"m":"IQL","x":100,"y":53},{"m":"IQL","x":150,"y":55},{"m":"IQL","x":200,"y":58},
{"m":"ODT","x":0,"y":42},{"m":"ODT","x":50,"y":42},{"m":"ODT","x":105,"y":42},{"m":"ODT","x":110,"y":40},{"m":"ODT","x":115,"y":42},{"m":"ODT","x":150,"y":42},{"m":"ODT","x":200,"y":42},
{"m":"PEX","x":0,"y":30},{"m":"PEX","x":5,"y":55},{"m":"PEX","x":10,"y":57},{"m":"PEX","x":20,"y":58},{"m":"PEX","x":40,"y":60},{"m":"PEX","x":60,"y":67},{"m":"PEX","x":80,"y":70},{"m":"PEX","x":100,"y":72},{"m":"PEX","x":120,"y":73},{"m":"PEX","x":140,"y":74},{"m":"PEX","x":150,"y":72},{"m":"PEX","x":160,"y":75},{"m":"PEX","x":180,"y":74},{"m":"PEX","x":200,"y":76},
{"m":"Cal-ql","x":0,"y":50},{"m":"Cal-ql","x":20,"y":52},{"m":"Cal-ql","x":40,"y":55},{"m":"Cal-ql","x":60,"y":58},{"m":"Cal-ql","x":80,"y":62},{"m":"Cal-ql","x":100,"y":64},{"m":"Cal-ql","x":120,"y":66},{"m":"Cal-ql","x":140,"y":67},{"m":"Cal-ql","x":160,"y":68},{"m":"Cal-ql","x":180,"y":69},{"m":"Cal-ql","x":200,"y":70},
{"m":"off2on","x":0,"y":35},{"m":"off2on","x":5,"y":48},{"m":"off2on","x":10,"y":55},{"m":"off2on","x":20,"y":62},{"m":"off2on","x":30,"y":68},{"m":"off2on","x":40,"y":74},{"m":"off2on","x":50,"y":78},{"m":"off2on","x":60,"y":82},{"m":"off2on","x":70,"y":85},{"m":"off2on","x":80,"y":87},{"m":"off2on","x":90,"y":89},{"m":"off2on","x":100,"y":90},{"m":"off2on","x":120,"y":93},{"m":"off2on","x":140,"y":95},{"m":"off2on","x":160,"y":97},{"m":"off2on","x":180,"y":98},{"m":"off2on","x":200,"y":100},
{"m":"SPOT","x":0,"y":58},{"m":"SPOT","x":20,"y":58},{"m":"SPOT","x":40,"y":60},{"m":"SPOT","x":60,"y":62},{"m":"SPOT","x":80,"y":65},{"m":"SPOT","x":100,"y":67},{"m":"SPOT","x":120,"y":68},{"m":"SPOT","x":136,"y":70},{"m":"SPOT","x":140,"y":47},{"m":"SPOT","x":151,"y":47},{"m":"SPOT","x":155,"y":70},{"m":"SPOT","x":180,"y":71},{"m":"SPOT","x":200,"y":72},
{"m":"Ours","x":0,"y":52},{"m":"Ours","x":20,"y":55},{"m":"Ours","x":40,"y":60},{"m":"Ours","x":60,"y":65},{"m":"Ours","x":80,"y":69},{"m":"Ours","x":100,"y":71},{"m":"Ours","x":120,"y":73},{"m":"Ours","x":140,"y":74},{"m":"Ours","x":160,"y":75},{"m":"Ours","x":180,"y":76},{"m":"Ours","x":200,"y":77},
{"m":"Offline","x":0,"y":53},{"m":"Offline","x":200,"y":53}
],
"b10":[
{"m":"SPOT","x":137,"lo":50,"hi":70},{"m":"SPOT","x":140,"lo":23,"hi":70},{"m":"SPOT","x":152,"lo":23,"hi":70},{"m":"SPOT","x":155,"lo":50,"hi":70}
],
"p11":[
{"m":"AWAC","x":0,"y":45},{"m":"AWAC","x":20,"y":47},{"m":"AWAC","x":40,"y":49},{"m":"AWAC","x":60,"y":50},{"m":"AWAC","x":80,"y":52},{"m":"AWAC","x":100,"y":54},{"m":"AWAC","x":120,"y":55},{"m":"AWAC","x":140,"y":56},{"m":"AWAC","x":160,"y":57},{"m":"AWAC","x":180,"y":58},{"m":"AWAC","x":200,"y":59},
{"m":"IQL","x":0,"y":43},{"m":"IQL","x":50,"y":45},{"m":"IQL","x":100,"y":48},{"m":"IQL","x":150,"y":51},{"m":"IQL","x":200,"y":54},
{"m":"ODT","x":0,"y":40},{"m":"ODT","x":10,"y":38},{"m":"ODT","x":20,"y":40},{"m":"ODT","x":30,"y":37},{"m":"ODT","x":40,"y":40},{"m":"ODT","x":50,"y":38},{"m":"ODT","x":60,"y":39},{"m":"ODT","x":70,"y":38},{"m":"ODT","x":80,"y":40},{"m":"ODT","x":90,"y":37},{"m":"ODT","x":100,"y":38},{"m":"ODT","x":110,"y":40},{"m":"ODT","x":120,"y":37},{"m":"ODT","x":130,"y":39},{"m":"ODT","x":140,"y":38},{"m":"ODT","x":150,"y":40},{"m":"ODT","x":160,"y":38},{"m":"ODT","x":170,"y":37},{"m":"ODT","x":180,"y":39},{"m":"ODT","x":190,"y":38},{"m":"ODT","x":200,"y":37},
{"m":"PEX","x":0,"y":28},{"m":"PEX","x":5,"y":45},{"m":"PEX","x":20,"y":48},{"m":"PEX","x":40,"y":50},{"m":"PEX","x":60,"y":55},{"m":"PEX","x":70,"y":52},{"m":"PEX","x":80,"y":55},{"m":"PEX","x":100,"y":58},{"m":"PEX","x":120,"y":60},{"m":"PEX","x":140,"y":62},{"m":"PEX","x":160,"y":62},{"m":"PEX","x":180,"y":64},{"m":"PEX","x":200,"y":65},
{"m":"Cal-ql","x":0,"y":44},{"m":"Cal-ql","x":50,"y":46},{"m":"Cal-ql","x":100,"y":49},{"m":"Cal-ql","x":150,"y":52},{"m":"Cal-ql","x":200,"y":54},
{"m":"off2on","x":0,"y":45},{"m":"off2on","x":10,"y":52},{"m":"off2on","x":20,"y":58},{"m":"off2on","x":30,"y":63},{"m":"off2on","x":40,"y":68},{"m":"off2on","x":50,"y":72},{"m":"off2on","x":60,"y":75},{"m":"off2on","x":70,"y":77},{"m":"off2on","x":80,"y":79},{"m":"off2on","x":90,"y":80},{"m":"off2on","x":100,"y":82},{"m":"off2on","x":120,"y":84},{"m":"off2on","x":140,"y":86},{"m":"off2on","x":160,"y":87},{"m":"off2on","x":180,"y":88},{"m":"off2on","x":200,"y":90},
{"m":"SPOT","x":0,"y":38},{"m":"SPOT","x":10,"y":45},{"m":"SPOT","x":20,"y":48},{"m":"SPOT","x":30,"y":42},{"m":"SPOT","x":40,"y":40},{"m":"SPOT","x":60,"y":42},{"m":"SPOT","x":80,"y":45},{"m":"SPOT","x":100,"y":47},{"m":"SPOT","x":120,"y":47},{"m":"SPOT","x":140,"y":48},{"m":"SPOT","x":152,"y":48},{"m":"SPOT","x":155,"y":25},{"m":"SPOT","x":158,"y":48},{"m":"SPOT","x":170,"y":45},{"m":"SPOT","x":180,"y":48},{"m":"SPOT","x":200,"y":50},
{"m":"Ours","x":0,"y":45},{"m":"Ours","x":20,"y":47},{"m":"Ours","x":40,"y":50},{"m":"Ours","x":60,"y":53},{"m":"Ours","x":80,"y":57},{"m":"Ours","x":100,"y":60},{"m":"Ours","x":120,"y":62},{"m":"Ours","x":140,"y":64},{"m":"Ours","x":160,"y":65},{"m":"Ours","x":180,"y":66},{"m":"Ours","x":200,"y":66},
{"m":"Offline","x":0,"y":44},{"m":"Offline","x":200,"y":44}
],
"b11":[
{"m":"SPOT","x":0,"lo":20,"hi":50},{"m":"SPOT","x":20,"lo":25,"hi":60},{"m":"SPOT","x":50,"lo":25,"hi":65},{"m":"SPOT","x":100,"lo":25,"hi":68},{"m":"SPOT","x":150,"lo":25,"hi":70},{"m":"SPOT","x":200,"lo":25,"hi":70}
],
"p12":[
{"m":"AWAC","x":0,"y":95},{"m":"AWAC","x":100,"y":95},{"m":"AWAC","x":200,"y":96},
{"m":"IQL","x":0,"y":65},{"m":"IQL","x":50,"y":65},{"m":"IQL","x":100,"y":67},{"m":"IQL","x":150,"y":69},{"m":"IQL","x":200,"y":71},
{"m":"ODT","x":0,"y":90},{"m":"ODT","x":10,"y":94},{"m":"ODT","x":50,"y":95},{"m":"ODT","x":100,"y":94},{"m":"ODT","x":150,"y":93},{"m":"ODT","x":200,"y":91},
{"m":"PEX","x":0,"y":35},{"m":"PEX","x":5,"y":40},{"m":"PEX","x":10,"y":50},{"m":"PEX","x":20,"y":62},{"m":"PEX","x":30,"y":70},{"m":"PEX","x":40,"y":73},{"m":"PEX","x":50,"y":75},{"m":"PEX","x":60,"y":76},{"m":"PEX","x":80,"y":80},{"m":"PEX","x":100,"y":82},{"m":"PEX","x":120,"y":83},{"m":"PEX","x":140,"y":85},{"m":"PEX","x":160,"y":86},{"m":"PEX","x":180,"y":87},{"m":"PEX","x":200,"y":88},
{"m":"Cal-ql","x":0,"y":93},{"m":"Cal-ql","x":100,"y":95},{"m":"Cal-ql","x":200,"y":96},
{"m":"off2on","x":0,"y":35},{"m":"off2on","x":5,"y":40},{"m":"off2on","x":10,"y":60},{"m":"off2on","x":15,"y":80},{"m":"off2on","x":20,"y":88},{"m":"off2on","x":30,"y":92},{"m":"off2on","x":40,"y":94},{"m":"off2on","x":60,"y":95},{"m":"off2on","x":80,"y":97},{"m":"off2on","x":100,"y":98},{"m":"off2on","x":120,"y":99},{"m":"off2on","x":140,"y":101},{"m":"off2on","x":160,"y":103},{"m":"off2on","x":180,"y":105},{"m":"off2on","x":200,"y":107},
{"m":"SPOT","x":0,"y":93},{"m":"SPOT","x":100,"y":96},{"m":"SPOT","x":200,"y":98},
{"m":"Ours","x":0,"y":95},{"m":"Ours","x":20,"y":95},{"m":"Ours","x":40,"y":96},{"m":"Ours","x":60,"y":97},{"m":"Ours","x":80,"y":98},{"m":"Ours","x":100,"y":99},{"m":"Ours","x":120,"y":100},{"m":"Ours","x":140,"y":101},{"m":"Ours","x":160,"y":101},{"m":"Ours","x":180,"y":102},{"m":"Ours","x":200,"y":103},
{"m":"Offline","x":0,"y":94},{"m":"Offline","x":200,"y":94}
],
"b12":[
{"m":"IQL","x":0,"lo":55,"hi":75},{"m":"IQL","x":50,"lo":57,"hi":75},{"m":"IQL","x":100,"lo":58,"hi":76},{"m":"IQL","x":150,"lo":60,"hi":77},{"m":"IQL","x":200,"lo":62,"hi":78}
]
},
"vconcat":[
{"vconcat":[
{"hconcat":[
{"title":"pen-human-v1","width":200,"height":150,"data":{"name":"p1"},"mark":{"type":"line","strokeJoin":"round","clip":true},
"encoding":{"x":{"field":"x","type":"quantitative","scale":{"domain":[0,200]},"axis":{"values":[0,50,100,150,200],"title":null}},
"y":{"field":"y","type":"quantitative","scale":{"domain":[-12,148],"nice":false,"zero":false},"axis":{"values":[0,20,40,60,80,100,120,140],"title":"Normalized Return"}},
"stroke":{"field":"m","type":"nominal","title":null,"scale":{"domain":["AWAC","IQL","ODT","PEX","Cal-ql","off2on","SPOT","Ours","Offline"],"range":["#0e2f44","#1984ad","#14d9a0","#ffc83d","#ffb0b0","#efb0ef","#a9cc86","#ff6868","#a150e6"]},"legend":{"orient":"none","legendX":-8,"legendY":-80,"direction":"horizontal","columns":9,"symbolType":"M-1,0H5"}},
"strokeDash":{"field":"m","type":"nominal","title":null,"scale":{"domain":["AWAC","IQL","ODT","PEX","Cal-ql","off2on","SPOT","Ours","Offline"],"range":[[1,0],[1,0],[1,0],[1,0],[1,0],[1,0],[1,0],[1,0],[6,4]]}},
"strokeWidth":{"field":"m","type":"nominal","title":null,"scale":{"type":"ordinal","domain":["AWAC","IQL","ODT","PEX","Cal-ql","off2on","SPOT","Ours","Offline"],"range":[2,2,2,2,2,2,2,3,1.8]}}}},
{"title":"hammer-human-v1","width":200,"height":150,"data":{"name":"p2"},"mark":{"type":"line","strokeJoin":"round","clip":true},
"encoding":{"x":{"field":"x","type":"quantitative","scale":{"domain":[0,200]},"axis":{"values":[0,50,100,150,200],"title":null}},
"y":{"field":"y","type":"quantitative","scale":{"domain":[-6,103],"nice":false,"zero":false},"axis":{"values":[0,20,40,60,80,100],"title":"Normalized Return"}},
"stroke":{"field":"m","type":"nominal","title":null,"scale":{"domain":["AWAC","IQL","ODT","PEX","Cal-ql","off2on","SPOT","Ours","Offline"],"range":["#0e2f44","#1984ad","#14d9a0","#ffc83d","#ffb0b0","#efb0ef","#a9cc86","#ff6868","#a150e6"]}},
"strokeDash":{"field":"m","type":"nominal","title":null,"scale":{"domain":["AWAC","IQL","ODT","PEX","Cal-ql","off2on","SPOT","Ours","Offline"],"range":[[1,0],[1,0],[1,0],[1,0],[1,0],[1,0],[1,0],[1,0],[6,4]]}},
"strokeWidth":{"field":"m","type":"nominal","title":null,"scale":{"type":"ordinal","domain":["AWAC","IQL","ODT","PEX","Cal-ql","off2on","SPOT","Ours","Offline"],"range":[2,2,2,2,2,2,2,3,1.8]}}}},
{"title":"door-human-v1","width":200,"height":150,"data":{"name":"p3"},"mark":{"type":"line","strokeJoin":"round","clip":true},
"encoding":{"x":{"field":"x","type":"quantitative","scale":{"domain":[0,200]},"axis":{"values":[0,50,100,150,200],"title":null}},
"y":{"field":"y","type":"quantitative","scale":{"domain":[-3.5,69],"nice":false,"zero":false},"axis":{"values":[0,10,20,30,40,50,60],"title":"Normalized Return"}},
"stroke":{"field":"m","type":"nominal","title":null,"scale":{"domain":["AWAC","IQL","ODT","PEX","Cal-ql","off2on","SPOT","Ours","Offline"],"range":["#0e2f44","#1984ad","#14d9a0","#ffc83d","#ffb0b0","#efb0ef","#a9cc86","#ff6868","#a150e6"]}},
"strokeDash":{"field":"m","type":"nominal","title":null,"scale":{"domain":["AWAC","IQL","ODT","PEX","Cal-ql","off2on","SPOT","Ours","Offline"],"range":[[1,0],[1,0],[1,0],[1,0],[1,0],[1,0],[1,0],[1,0],[6,4]]}},
"strokeWidth":{"field":"m","type":"nominal","title":null,"scale":{"type":"ordinal","domain":["AWAC","IQL","ODT","PEX","Cal-ql","off2on","SPOT","Ours","Offline"],"range":[2,2,2,2,2,2,2,3,1.8]}}}},
{"title":"walker2d-medium-v2","width":200,"height":150,"data":{"name":"p4"},"mark":{"type":"line","strokeJoin":"round","clip":true},
"encoding":{"x":{"field":"x","type":"quantitative","scale":{"domain":[0,200]},"axis":{"values":[0,50,100,150,200],"title":null}},
"y":{"field":"y","type":"quantitative","scale":{"domain":[-5,134],"nice":false,"zero":false},"axis":{"values":[0,20,40,60,80,100,120],"title":"Normalized Return"}},
"stroke":{"field":"m","type":"nominal","title":null,"scale":{"domain":["AWAC","IQL","ODT","PEX","Cal-ql","off2on","SPOT","Ours","Offline"],"range":["#0e2f44","#1984ad","#14d9a0","#ffc83d","#ffb0b0","#efb0ef","#a9cc86","#ff6868","#a150e6"]}},
"strokeDash":{"field":"m","type":"nominal","title":null,"scale":{"domain":["AWAC","IQL","ODT","PEX","Cal-ql","off2on","SPOT","Ours","Offline"],"range":[[1,0],[1,0],[1,0],[1,0],[1,0],[1,0],[1,0],[1,0],[6,4]]}},
"strokeWidth":{"field":"m","type":"nominal","title":null,"scale":{"type":"ordinal","domain":["AWAC","IQL","ODT","PEX","Cal-ql","off2on","SPOT","Ours","Offline"],"range":[2,2,2,2,2,2,2,3,1.8]}}}}
],"spacing":62,"bounds":"flush"},
{"hconcat":[
{"title":"walker2d-medium-replay-v2","width":200,"height":150,"data":{"name":"p5"},"mark":{"type":"line","strokeJoin":"round","clip":true},
"encoding":{"x":{"field":"x","type":"quantitative","scale":{"domain":[0,200]},"axis":{"values":[0,50,100,150,200],"title":"Environment Steps (×5e3)"}},
"y":{"field":"y","type":"quantitative","scale":{"domain":[2.5,141],"nice":false,"zero":false},"axis":{"values":[20,40,60,80,100,120],"title":"Normalized Return"}},
"stroke":{"field":"m","type":"nominal","title":null,"scale":{"domain":["AWAC","IQL","ODT","PEX","Cal-ql","off2on","SPOT","Ours","Offline"],"range":["#0e2f44","#1984ad","#14d9a0","#ffc83d","#ffb0b0","#efb0ef","#a9cc86","#ff6868","#a150e6"]}},
"strokeDash":{"field":"m","type":"nominal","title":null,"scale":{"domain":["AWAC","IQL","ODT","PEX","Cal-ql","off2on","SPOT","Ours","Offline"],"range":[[1,0],[1,0],[1,0],[1,0],[1,0],[1,0],[1,0],[1,0],[6,4]]}},
"strokeWidth":{"field":"m","type":"nominal","title":null,"scale":{"type":"ordinal","domain":["AWAC","IQL","ODT","PEX","Cal-ql","off2on","SPOT","Ours","Offline"],"range":[2,2,2,2,2,2,2,3,1.8]}}}},
{"title":"walker2d-medium-expert-v2","width":200,"height":150,"layer":[
{"data":{"name":"b6"},"mark":{"type":"area","opacity":0.2,"clip":true},
"encoding":{"x":{"field":"x","type":"quantitative","scale":{"domain":[0,200]}},"y":{"field":"lo","type":"quantitative","scale":{"domain":[-7,150],"nice":false,"zero":false}},"y2":{"field":"hi"},
"fill":{"field":"m","type":"nominal","legend":null,"scale":{"domain":["AWAC","IQL","ODT","PEX","Cal-ql","off2on","SPOT","Ours","Offline"],"range":["#0e2f44","#1984ad","#14d9a0","#ffc83d","#ffb0b0","#efb0ef","#a9cc86","#ff6868","#a150e6"]}}}},
{"data":{"name":"p6"},"mark":{"type":"line","strokeJoin":"round","clip":true},
"encoding":{"x":{"field":"x","type":"quantitative","scale":{"domain":[0,200]},"axis":{"values":[0,50,100,150,200],"title":"Environment Steps (×5e3)"}},
"y":{"field":"y","type":"quantitative","scale":{"domain":[-7,150],"nice":false,"zero":false},"axis":{"values":[0,20,40,60,80,100,120,140],"title":"Normalized Return"}},
"stroke":{"field":"m","type":"nominal","title":null,"scale":{"domain":["AWAC","IQL","ODT","PEX","Cal-ql","off2on","SPOT","Ours","Offline"],"range":["#0e2f44","#1984ad","#14d9a0","#ffc83d","#ffb0b0","#efb0ef","#a9cc86","#ff6868","#a150e6"]}},
"strokeDash":{"field":"m","type":"nominal","title":null,"scale":{"domain":["AWAC","IQL","ODT","PEX","Cal-ql","off2on","SPOT","Ours","Offline"],"range":[[1,0],[1,0],[1,0],[1,0],[1,0],[1,0],[1,0],[1,0],[6,4]]}},
"strokeWidth":{"field":"m","type":"nominal","title":null,"scale":{"type":"ordinal","domain":["AWAC","IQL","ODT","PEX","Cal-ql","off2on","SPOT","Ours","Offline"],"range":[2,2,2,2,2,2,2,3,1.8]}}}}]},
{"title":"hopper-medium-v2","width":200,"height":150,"data":{"name":"p7"},"mark":{"type":"line","strokeJoin":"round","clip":true},
"encoding":{"x":{"field":"x","type":"quantitative","scale":{"domain":[0,200]},"axis":{"values":[0,50,100,150,200],"title":"Environment Steps (×5e3)"}},
"y":{"field":"y","type":"quantitative","scale":{"domain":[0.8,116],"nice":false,"zero":false},"axis":{"values":[20,40,60,80,100],"title":"Normalized Return"}},
"stroke":{"field":"m","type":"nominal","title":null,"scale":{"domain":["AWAC","IQL","ODT","PEX","Cal-ql","off2on","SPOT","Ours","Offline"],"range":["#0e2f44","#1984ad","#14d9a0","#ffc83d","#ffb0b0","#efb0ef","#a9cc86","#ff6868","#a150e6"]}},
"strokeDash":{"field":"m","type":"nominal","title":null,"scale":{"domain":["AWAC","IQL","ODT","PEX","Cal-ql","off2on","SPOT","Ours","Offline"],"range":[[1,0],[1,0],[1,0],[1,0],[1,0],[1,0],[1,0],[1,0],[6,4]]}},
"strokeWidth":{"field":"m","type":"nominal","title":null,"scale":{"type":"ordinal","domain":["AWAC","IQL","ODT","PEX","Cal-ql","off2on","SPOT","Ours","Offline"],"range":[2,2,2,2,2,2,2,3,1.8]}}}},
{"title":"hopper-medium-replay-v2","width":200,"height":150,"data":{"name":"p8"},"mark":{"type":"line","strokeJoin":"round","clip":true},
"encoding":{"x":{"field":"x","type":"quantitative","scale":{"domain":[0,200]},"axis":{"values":[0,50,100,150,200],"title":"Environment Steps (×5e3)"}},
"y":{"field":"y","type":"quantitative","scale":{"domain":[13.6,121.2],"nice":false,"zero":false},"axis":{"values":[20,40,60,80,100,120],"title":"Normalized Return"}},
"stroke":{"field":"m","type":"nominal","title":null,"scale":{"domain":["AWAC","IQL","ODT","PEX","Cal-ql","off2on","SPOT","Ours","Offline"],"range":["#0e2f44","#1984ad","#14d9a0","#ffc83d","#ffb0b0","#efb0ef","#a9cc86","#ff6868","#a150e6"]}},
"strokeDash":{"field":"m","type":"nominal","title":null,"scale":{"domain":["AWAC","IQL","ODT","PEX","Cal-ql","off2on","SPOT","Ours","Offline"],"range":[[1,0],[1,0],[1,0],[1,0],[1,0],[1,0],[1,0],[1,0],[6,4]]}},
"strokeWidth":{"field":"m","type":"nominal","title":null,"scale":{"type":"ordinal","domain":["AWAC","IQL","ODT","PEX","Cal-ql","off2on","SPOT","Ours","Offline"],"range":[2,2,2,2,2,2,2,3,1.8]}}}}
],"spacing":62,"bounds":"flush"}
],"spacing":0},
{"hconcat":[
{"title":"hopper-medium-expert-v2","width":200,"height":150,"data":{"name":"p9"},"mark":{"type":"line","strokeJoin":"round","clip":true},
"encoding":{"x":{"field":"x","type":"quantitative","scale":{"domain":[0,200]},"axis":{"values":[0,50,100,150,200],"title":"Environment Steps (×5e3)"}},
"y":{"field":"y","type":"quantitative","scale":{"domain":[-1,123.6],"nice":false,"zero":false},"axis":{"values":[0,20,40,60,80,100,120],"title":"Normalized Return"}},
"stroke":{"field":"m","type":"nominal","title":null,"scale":{"domain":["AWAC","IQL","ODT","PEX","Cal-ql","off2on","SPOT","Ours","Offline"],"range":["#0e2f44","#1984ad","#14d9a0","#ffc83d","#ffb0b0","#efb0ef","#a9cc86","#ff6868","#a150e6"]}},
"strokeDash":{"field":"m","type":"nominal","title":null,"scale":{"domain":["AWAC","IQL","ODT","PEX","Cal-ql","off2on","SPOT","Ours","Offline"],"range":[[1,0],[1,0],[1,0],[1,0],[1,0],[1,0],[1,0],[1,0],[6,4]]}},
"strokeWidth":{"field":"m","type":"nominal","title":null,"scale":{"type":"ordinal","domain":["AWAC","IQL","ODT","PEX","Cal-ql","off2on","SPOT","Ours","Offline"],"range":[2,2,2,2,2,2,2,3,1.8]}}}},
{"title":"halfcheetah-medium-v2","width":200,"height":150,"layer":[
{"data":{"name":"b10"},"mark":{"type":"area","opacity":0.25,"clip":true},
"encoding":{"x":{"field":"x","type":"quantitative","scale":{"domain":[0,200]}},"y":{"field":"lo","type":"quantitative","scale":{"domain":[18.6,106.8],"nice":false,"zero":false}},"y2":{"field":"hi"},
"fill":{"field":"m","type":"nominal","legend":null,"scale":{"domain":["AWAC","IQL","ODT","PEX","Cal-ql","off2on","SPOT","Ours","Offline"],"range":["#0e2f44","#1984ad","#14d9a0","#ffc83d","#ffb0b0","#efb0ef","#a9cc86","#ff6868","#a150e6"]}}}},
{"data":{"name":"p10"},"mark":{"type":"line","strokeJoin":"round","clip":true},
"encoding":{"x":{"field":"x","type":"quantitative","scale":{"domain":[0,200]},"axis":{"values":[0,50,100,150,200],"title":"Environment Steps (×5e3)"}},
"y":{"field":"y","type":"quantitative","scale":{"domain":[18.6,106.8],"nice":false,"zero":false},"axis":{"values":[20,40,60,80,100],"title":"Normalized Return"}},
"stroke":{"field":"m","type":"nominal","title":null,"scale":{"domain":["AWAC","IQL","ODT","PEX","Cal-ql","off2on","SPOT","Ours","Offline"],"range":["#0e2f44","#1984ad","#14d9a0","#ffc83d","#ffb0b0","#efb0ef","#a9cc86","#ff6868","#a150e6"]}},
"strokeDash":{"field":"m","type":"nominal","title":null,"scale":{"domain":["AWAC","IQL","ODT","PEX","Cal-ql","off2on","SPOT","Ours","Offline"],"range":[[1,0],[1,0],[1,0],[1,0],[1,0],[1,0],[1,0],[1,0],[6,4]]}},
"strokeWidth":{"field":"m","type":"nominal","title":null,"scale":{"type":"ordinal","domain":["AWAC","IQL","ODT","PEX","Cal-ql","off2on","SPOT","Ours","Offline"],"range":[2,2,2,2,2,2,2,3,1.8]}}}}]},
{"title":"halfcheetah-medium-replay-v2","width":200,"height":150,"layer":[
{"data":{"name":"b11"},"mark":{"type":"area","opacity":0.2,"clip":true},
"encoding":{"x":{"field":"x","type":"quantitative","scale":{"domain":[0,200]}},"y":{"field":"lo","type":"quantitative","scale":{"domain":[-3.8,98.4],"nice":false,"zero":false}},"y2":{"field":"hi"},
"fill":{"field":"m","type":"nominal","legend":null,"scale":{"domain":["AWAC","IQL","ODT","PEX","Cal-ql","off2on","SPOT","Ours","Offline"],"range":["#0e2f44","#1984ad","#14d9a0","#ffc83d","#ffb0b0","#efb0ef","#a9cc86","#ff6868","#a150e6"]}}}},
{"data":{"name":"p11"},"mark":{"type":"line","strokeJoin":"round","clip":true},
"encoding":{"x":{"field":"x","type":"quantitative","scale":{"domain":[0,200]},"axis":{"values":[0,50,100,150,200],"title":"Environment Steps (×5e3)"}},
"y":{"field":"y","type":"quantitative","scale":{"domain":[-3.8,98.4],"nice":false,"zero":false},"axis":{"values":[0,20,40,60,80],"title":"Normalized Return"}},
"stroke":{"field":"m","type":"nominal","title":null,"scale":{"domain":["AWAC","IQL","ODT","PEX","Cal-ql","off2on","SPOT","Ours","Offline"],"range":["#0e2f44","#1984ad","#14d9a0","#ffc83d","#ffb0b0","#efb0ef","#a9cc86","#ff6868","#a150e6"]}},
"strokeDash":{"field":"m","type":"nominal","title":null,"scale":{"domain":["AWAC","IQL","ODT","PEX","Cal-ql","off2on","SPOT","Ours","Offline"],"range":[[1,0],[1,0],[1,0],[1,0],[1,0],[1,0],[1,0],[1,0],[6,4]]}},
"strokeWidth":{"field":"m","type":"nominal","title":null,"scale":{"type":"ordinal","domain":["AWAC","IQL","ODT","PEX","Cal-ql","off2on","SPOT","Ours","Offline"],"range":[2,2,2,2,2,2,2,3,1.8]}}}}]},
{"title":"halfcheetah-medium-expert-v2","width":200,"height":150,"layer":[
{"data":{"name":"b12"},"mark":{"type":"area","opacity":0.3,"clip":true},
"encoding":{"x":{"field":"x","type":"quantitative","scale":{"domain":[0,200]}},"y":{"field":"lo","type":"quantitative","scale":{"domain":[14.5,114.4],"nice":false,"zero":false}},"y2":{"field":"hi"},
"fill":{"field":"m","type":"nominal","legend":null,"scale":{"domain":["AWAC","IQL","ODT","PEX","Cal-ql","off2on","SPOT","Ours","Offline"],"range":["#0e2f44","#1984ad","#14d9a0","#ffc83d","#ffb0b0","#efb0ef","#a9cc86","#ff6868","#a150e6"]}}}},
{"data":{"name":"p12"},"mark":{"type":"line","strokeJoin":"round","clip":true},
"encoding":{"x":{"field":"x","type":"quantitative","scale":{"domain":[0,200]},"axis":{"values":[0,50,100,150,200],"title":"Environment Steps (×5e3)"}},
"y":{"field":"y","type":"quantitative","scale":{"domain":[14.5,114.4],"nice":false,"zero":false},"axis":{"values":[20,40,60,80,100],"title":"Normalized Return"}},
"stroke":{"field":"m","type":"nominal","title":null,"scale":{"domain":["AWAC","IQL","ODT","PEX","Cal-ql","off2on","SPOT","Ours","Offline"],"range":["#0e2f44","#1984ad","#14d9a0","#ffc83d","#ffb0b0","#efb0ef","#a9cc86","#ff6868","#a150e6"]}},
"strokeDash":{"field":"m","type":"nominal","title":null,"scale":{"domain":["AWAC","IQL","ODT","PEX","Cal-ql","off2on","SPOT","Ours","Offline"],"range":[[1,0],[1,0],[1,0],[1,0],[1,0],[1,0],[1,0],[1,0],[6,4]]}},
"strokeWidth":{"field":"m","type":"nominal","title":null,"scale":{"type":"ordinal","domain":["AWAC","IQL","ODT","PEX","Cal-ql","off2on","SPOT","Ours","Offline"],"range":[2,2,2,2,2,2,2,3,1.8]}}}}]}
],"spacing":62,"bounds":"flush"}
],
"spacing":2
}
